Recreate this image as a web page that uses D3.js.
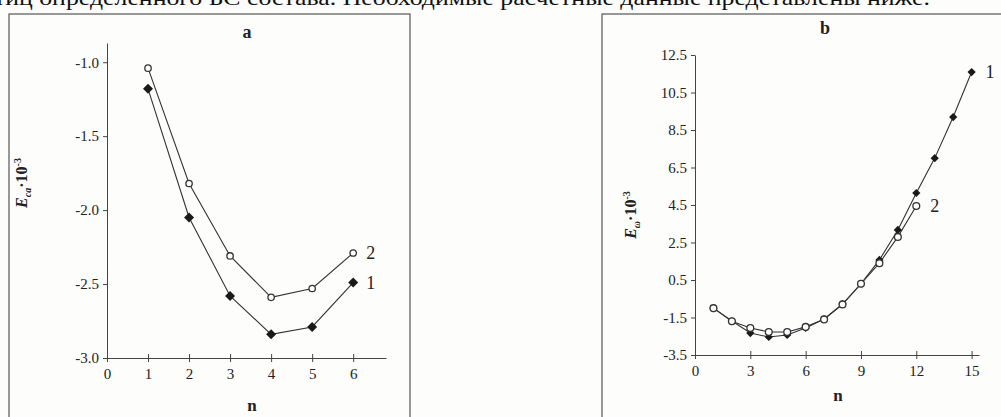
<!DOCTYPE html>
<html>
<head>
<meta charset="utf-8">
<script src="https://cdn.jsdelivr.net/npm/d3@7"></script>
<style>
  body { margin: 0; background: #fdfdfc; }
  svg { display: block; }
  text { font-family: "Liberation Serif", "DejaVu Serif", serif; fill: #222; }
  .axis path, .axis line { stroke: #444; stroke-width: 1; }
</style>
</head>
<body>
<div id="chart"></div>
<script>
// panel a
var aN = [1, 2, 3, 4, 5, 6];
var aSeries1 = [-1.18, -2.05, -2.58, -2.84, -2.79, -2.49];
var aSeries2 = [-1.04, -1.82, -2.31, -2.59, -2.53, -2.29];
var aXTicks = [0, 1, 2, 3, 4, 5, 6];
var aYTicks = [-1.0, -1.5, -2.0, -2.5, -3.0];

// panel b
var bN1 = [1, 2, 3, 4, 5, 6, 7, 8, 9, 10, 11, 12, 13, 14, 15];
var bSeries1 = [-1.0, -1.69, -2.33, -2.54, -2.43, -2.06, -1.58, -0.78, 0.29, 1.57, 3.17, 5.14, 7.0, 9.19, 11.59];
var bN2 = [1, 2, 3, 4, 5, 6, 7, 8, 9, 10, 11, 12];
var bSeries2 = [-1.0, -1.7, -2.06, -2.27, -2.27, -2.0, -1.6, -0.8, 0.3, 1.4, 2.8, 4.45];
var bXTicks = [0, 3, 6, 9, 12, 15];
var bYTicks = [12.5, 10.5, 8.5, 6.5, 4.5, 2.5, 0.5, -1.5, -3.5];

var W = 1001, H = 417;
var serif = '"Liberation Serif", "DejaVu Serif", serif';
var svg = d3.select('#chart').append('svg')
  .attr('width', W).attr('height', H);

// line of text from the page above, cut by the top edge as in the scan
svg.append('text')
  .attr('x', 930).attr('y', 5)
  .attr('text-anchor', 'end')
  .attr('textLength', 972)
  .attr('lengthAdjust', 'spacingAndGlyphs')
  .style('font-size', '21px')
  .style('fill', '#111')
  .text('частиц определенного БС состава. Необходимые расчетные данные представлены ниже.');

// frames
svg.append('rect').attr('x', 9).attr('y', 14).attr('width', 401).attr('height', 420)
  .attr('fill', 'none').attr('stroke', '#555').attr('stroke-width', 1.2);
svg.append('rect').attr('x', 602).attr('y', 14).attr('width', 420).attr('height', 420)
  .attr('fill', 'none').attr('stroke', '#555').attr('stroke-width', 1.2);

function panel(cfg) {
  var x = d3.scaleLinear().domain(cfg.xDomain).range(cfg.xRange);
  var y = d3.scaleLinear().domain(cfg.yDomain).range(cfg.yRange);
  var g = svg.append('g');

  // y axis
  var gy = g.append('g').attr('class', 'axis')
    .attr('transform', 'translate(' + x(cfg.xDomain[0]) + ',0)')
    .call(d3.axisLeft(y).tickValues(cfg.yTicks).tickSize(4).tickSizeOuter(0)
      .tickFormat(function(d) { return d3.format('.1f')(d).replace('−', '-'); }));
  gy.attr('font-family', serif).attr('font-size', cfg.tickSize);
  gy.selectAll('.tick text').attr('x', -8).attr('fill', '#333');

  // x axis
  var gx = g.append('g').attr('class', 'axis')
    .attr('transform', 'translate(0,' + y(cfg.yDomain[0]) + ')')
    .call(d3.axisBottom(x).tickValues(cfg.xTicks).tickSize(4).tickSizeOuter(0)
      .tickFormat(d3.format('d')));
  gx.attr('font-family', serif).attr('font-size', cfg.tickSize);
  gx.selectAll('.tick line').attr('y1', -4);
  gx.selectAll('.tick text').attr('y', 10).attr('fill', '#333');

  // series
  var line = d3.line()
    .x(function(d) { return x(d[0]); })
    .y(function(d) { return y(d[1]); });

  cfg.series.forEach(function(s) {
    var pts = s.n.map(function(n, i) { return [n, s.v[i]]; });
    g.append('path').datum(pts)
      .attr('d', line)
      .attr('fill', 'none').attr('stroke', '#333').attr('stroke-width', 1.1);
  });
  // markers on top of every line
  cfg.series.forEach(function(s) {
    var pts = s.n.map(function(n, i) { return [n, s.v[i]]; });
    if (s.marker == 'diamond') {
      g.selectAll(null).data(pts).enter().append('path')
        .attr('d', d3.symbol().type(d3.symbolSquare).size(cfg.diamond))
        .attr('transform', function(d) { return 'translate(' + x(d[0]) + ',' + y(d[1]) + ') rotate(45)'; })
        .attr('fill', '#1a1a1a');
    } else {
      g.selectAll(null).data(pts).enter().append('circle')
        .attr('cx', function(d) { return x(d[0]); })
        .attr('cy', function(d) { return y(d[1]); })
        .attr('r', cfg.circle)
        .attr('fill', '#fff').attr('stroke', '#333').attr('stroke-width', 1.3);
    }
    var last = pts[pts.length - 1];
    g.append('text')
      .attr('x', x(last[0]) + s.dx).attr('y', y(last[1]) + 6)
      .style('font-size', '18px')
      .text(s.label);
  });

  // titles
  g.append('text').attr('x', cfg.title[0]).attr('y', cfg.title[1])
    .attr('text-anchor', 'middle').style('font-size', '18px').style('font-weight', 'bold')
    .text(cfg.name);
  g.append('text').attr('x', cfg.nLabel[0]).attr('y', cfg.nLabel[1])
    .attr('text-anchor', 'middle').style('font-size', '17px').style('font-weight', 'bold')
    .text('n');

  var yl = g.append('text')
    .attr('transform', 'translate(' + cfg.yLabel[0] + ',' + cfg.yLabel[1] + ') rotate(-90)')
    .attr('text-anchor', 'middle')
    .style('font-size', '16px').style('font-weight', 'bold');
  yl.append('tspan').style('font-style', 'italic').text('E');
  yl.append('tspan').attr('dy', 4).style('font-size', '10px').style('font-style', 'italic').text(cfg.sub);
  yl.append('tspan').attr('dy', -4).text('·10');
  yl.append('tspan').attr('dy', -6).style('font-size', '10px').text('-3');
}

panel({
  name: 'a', sub: 'ca', tickSize: 15,
  xDomain: [0, 6.8], xRange: [107, 386],
  yDomain: [-3.0, -0.87], yRange: [358, 43],
  xTicks: aXTicks, yTicks: aYTicks,
  diamond: 50, circle: 3.2,
  series: [
    { n: aN, v: aSeries1, marker: 'diamond', label: '1', dx: 13 },
    { n: aN, v: aSeries2, marker: 'circle', label: '2', dx: 13 }
  ],
  title: [247, 38], nLabel: [252, 411], yLabel: [27, 183]
});

panel({
  name: 'b', sub: 'ω', tickSize: 15,
  xDomain: [0, 15.4], xRange: [695, 979],
  yDomain: [-3.5, 12.5], yRange: [355, 55],
  xTicks: bXTicks, yTicks: bYTicks,
  diamond: 34, circle: 3.4,
  series: [
    { n: bN1, v: bSeries1, marker: 'diamond', label: '1', dx: 14 },
    { n: bN2, v: bSeries2, marker: 'circle', label: '2', dx: 14 }
  ],
  title: [825, 34], nLabel: [838, 401], yLabel: [636, 215]
});
</script>
</body>
</html>
